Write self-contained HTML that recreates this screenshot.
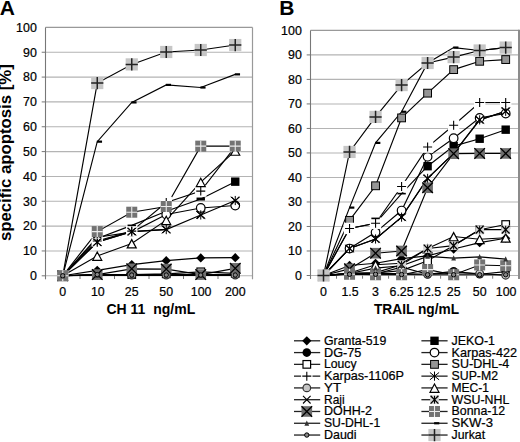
<!DOCTYPE html>
<html><head><meta charset="utf-8"><style>
html,body{margin:0;padding:0;background:#fff;width:520px;height:442px;overflow:hidden}
svg{display:block}
text{fill:#000} .r{stroke:#000;stroke-width:0.22px}
</style></head><body>
<svg width="520" height="442" viewBox="0 0 520 442" font-family='"Liberation Sans", sans-serif'><rect width="520" height="442" fill="#fff"/><text x="-0.3" y="14.6" font-size="21" font-weight="bold">A</text><text x="279.2" y="14.6" font-size="21" font-weight="bold">B</text><text transform="translate(10.7,241.1) rotate(-90)" font-size="16.5" font-weight="bold" textLength="176.9" lengthAdjust="spacingAndGlyphs">specific apoptosis [%]</text><text x="106.5" y="313.5" font-size="14" font-weight="bold" xml:space="preserve" style="white-space:pre">CH 11  ng/mL</text><text x="374" y="314" font-size="14" font-weight="bold" textLength="85" lengthAdjust="spacingAndGlyphs">TRAIL ng/mL</text><path d="M45.5 275.8H252.5M45.5 250.96H252.5M45.5 226.12H252.5M45.5 201.28H252.5M45.5 176.44H252.5M45.5 151.6H252.5M45.5 126.76H252.5M45.5 101.92H252.5M45.5 77.08H252.5M45.5 52.24H252.5" stroke="#b4b4b4" stroke-width="1.1" fill="none"/>
<path d="M45.5 27.4H252.5" stroke="#999" stroke-width="1.1" fill="none"/>
<path d="M45.5 27.4V279.3" stroke="#777" stroke-width="1.1" fill="none"/>
<path d="M252.5 27.4V279.3" stroke="#999" stroke-width="1.2" fill="none"/>
<path d="M41.7 275.8H45.5M41.7 250.96H45.5M41.7 226.12H45.5M41.7 201.28H45.5M41.7 176.44H45.5M41.7 151.6H45.5M41.7 126.76H45.5M41.7 101.92H45.5M41.7 77.08H45.5M41.7 52.24H45.5M80 275.8V279M114.5 275.8V279M149 275.8V279M183.5 275.8V279M218 275.8V279" stroke="#777" stroke-width="1" fill="none"/>
<text x="36.8" y="280.1" text-anchor="end" font-size="12.4" class="r">0</text>
<text x="36.8" y="255.26" text-anchor="end" font-size="12.4" class="r">10</text>
<text x="36.8" y="230.42" text-anchor="end" font-size="12.4" class="r">20</text>
<text x="36.8" y="205.58" text-anchor="end" font-size="12.4" class="r">30</text>
<text x="36.8" y="180.74" text-anchor="end" font-size="12.4" class="r">40</text>
<text x="36.8" y="155.9" text-anchor="end" font-size="12.4" class="r">50</text>
<text x="36.8" y="131.06" text-anchor="end" font-size="12.4" class="r">60</text>
<text x="36.8" y="106.22" text-anchor="end" font-size="12.4" class="r">70</text>
<text x="36.8" y="81.38" text-anchor="end" font-size="12.4" class="r">80</text>
<text x="36.8" y="56.54" text-anchor="end" font-size="12.4" class="r">90</text>
<text x="36.8" y="31.7" text-anchor="end" font-size="12.4" class="r">100</text>
<text x="62.75" y="295.9" text-anchor="middle" font-size="12.4" class="r">0</text>
<text x="97.85" y="295.9" text-anchor="middle" font-size="12.4" class="r">10</text>
<text x="131.75" y="295.9" text-anchor="middle" font-size="12.4" class="r">25</text>
<text x="166.25" y="295.9" text-anchor="middle" font-size="12.4" class="r">50</text>
<text x="201.15" y="295.9" text-anchor="middle" font-size="12.4" class="r">100</text>
<text x="235.25" y="295.9" text-anchor="middle" font-size="12.4" class="r">200</text>
<polyline points="62.75,275.8 97.25,270.34 131.75,264.62 166.25,260.65 200.75,257.92 235.25,257.67" fill="none" stroke="#000" stroke-width="1.15"/>
<polyline points="62.75,275.8 97.25,238.54 131.75,225.37 166.25,211.22 200.75,199.04 235.25,181.66" fill="none" stroke="#000" stroke-width="1.15"/>
<polyline points="62.75,275.8 97.25,275.05 131.75,274.56 166.25,274.56 200.75,274.56 235.25,274.56" fill="none" stroke="#000" stroke-width="1.15"/>
<polyline points="62.75,275.8 97.25,237.3 131.75,232.08 166.25,214.45 200.75,207.99 235.25,205.5" fill="none" stroke="#000" stroke-width="1.15"/>
<polyline points="62.75,275.8 97.25,275.05 131.75,274.56 166.25,273.81 200.75,271.83 235.25,273.32" fill="none" stroke="#000" stroke-width="1.15"/>
<polyline points="62.75,275.8 97.25,241.02 131.75,231.09 166.25,202.52 200.75,191.1 235.25,146.63" fill="none" stroke="#000" stroke-width="1.15"/>
<polyline points="62.75,275.8 97.25,242.27 131.75,231.58 166.25,229.6 200.75,214.94 235.25,200.53" fill="none" stroke="#000" stroke-width="1.15"/>
<polyline points="62.75,275.8 97.25,274.56 131.75,275.05 166.25,275.05 200.75,275.05 235.25,275.05" fill="none" stroke="#000" stroke-width="1.15"/>
<polyline points="62.75,275.8 97.25,255.93 131.75,243.51 166.25,220.16 200.75,182.15 235.25,150.85" fill="none" stroke="#000" stroke-width="1.15"/>
<polyline points="62.75,275.8 97.25,242.02 131.75,231.58 166.25,229.35" fill="none" stroke="#000" stroke-width="1.15"/>
<polyline points="62.75,275.8 97.25,274.56 131.75,268.84 166.25,269.09 200.75,274.56 235.25,268.35" fill="none" stroke="#000" stroke-width="1.15"/>
<polyline points="62.75,275.8 97.25,231.58 131.75,212.21 166.25,206.5 200.75,146.14 235.25,146.14" fill="none" stroke="#000" stroke-width="1.15"/>
<polyline points="62.75,275.8 97.25,275.3 131.75,275.3 166.25,275.3 200.75,275.3 235.25,275.3" fill="none" stroke="#000" stroke-width="1.15"/>
<polyline points="62.75,275.8 97.25,141.66 131.75,102.42 166.25,84.9 200.75,87.51 235.25,74.35" fill="none" stroke="#000" stroke-width="1.15"/>
<polyline points="62.75,275.8 97.25,274.56 131.75,275.05 166.25,275.05 200.75,275.05 235.25,275.05" fill="none" stroke="#000" stroke-width="1.15"/>
<polyline points="62.75,275.8 97.25,83.04 131.75,64.41 166.25,51.99 200.75,50 235.25,45.04" fill="none" stroke="#000" stroke-width="1.15"/>
<polygon points="62.75,271.2 67.35,275.8 62.75,280.4 58.15,275.8" fill="#000"/>
<polygon points="97.25,265.74 101.85,270.34 97.25,274.94 92.65,270.34" fill="#000"/>
<polygon points="131.75,260.02 136.35,264.62 131.75,269.22 127.15,264.62" fill="#000"/>
<polygon points="166.25,256.05 170.85,260.65 166.25,265.25 161.65,260.65" fill="#000"/>
<polygon points="200.75,253.32 205.35,257.92 200.75,262.52 196.15,257.92" fill="#000"/>
<polygon points="235.25,253.07 239.85,257.67 235.25,262.27 230.65,257.67" fill="#000"/>
<rect x="58.55" y="271.6" width="8.4" height="8.4" fill="#000"/>
<rect x="231.05" y="177.46" width="8.4" height="8.4" fill="#000"/>
<circle cx="62.75" cy="275.8" r="4.3" fill="#000"/>
<circle cx="97.25" cy="275.05" r="4.3" fill="#000"/>
<circle cx="131.75" cy="274.56" r="4.3" fill="#000"/>
<circle cx="166.25" cy="274.56" r="4.3" fill="#000"/>
<circle cx="200.75" cy="274.56" r="4.3" fill="#000"/>
<circle cx="235.25" cy="274.56" r="4.3" fill="#000"/>
<circle cx="62.75" cy="275.8" r="4.3" fill="#fff" stroke="#000" stroke-width="1.2"/>
<circle cx="97.25" cy="237.3" r="4.3" fill="#fff" stroke="#000" stroke-width="1.2"/>
<circle cx="131.75" cy="232.08" r="4.3" fill="#fff" stroke="#000" stroke-width="1.2"/>
<circle cx="166.25" cy="214.45" r="4.3" fill="#fff" stroke="#000" stroke-width="1.2"/>
<circle cx="200.75" cy="207.99" r="4.3" fill="#fff" stroke="#000" stroke-width="1.2"/>
<circle cx="235.25" cy="205.5" r="4.3" fill="#fff" stroke="#000" stroke-width="1.2"/>
<rect x="58.95" y="272" width="7.6" height="7.6" fill="#fff" stroke="#000" stroke-width="1.2"/>
<rect x="93.45" y="271.25" width="7.6" height="7.6" fill="#fff" stroke="#000" stroke-width="1.2"/>
<rect x="127.95" y="270.76" width="7.6" height="7.6" fill="#fff" stroke="#000" stroke-width="1.2"/>
<rect x="162.45" y="270.01" width="7.6" height="7.6" fill="#fff" stroke="#000" stroke-width="1.2"/>
<rect x="196.95" y="268.03" width="7.6" height="7.6" fill="#fff" stroke="#000" stroke-width="1.2"/>
<rect x="231.45" y="269.52" width="7.6" height="7.6" fill="#fff" stroke="#000" stroke-width="1.2"/>
<rect x="58.85" y="271.9" width="7.8" height="7.8" fill="#959595" stroke="#000" stroke-width="1"/>
<rect x="93.35" y="227.68" width="7.8" height="7.8" fill="#959595" stroke="#000" stroke-width="1"/>
<rect x="127.85" y="208.31" width="7.8" height="7.8" fill="#959595" stroke="#000" stroke-width="1"/>
<rect x="162.35" y="202.6" width="7.8" height="7.8" fill="#959595" stroke="#000" stroke-width="1"/>
<rect x="196.85" y="142.24" width="7.8" height="7.8" fill="#959595" stroke="#000" stroke-width="1"/>
<rect x="231.35" y="142.24" width="7.8" height="7.8" fill="#959595" stroke="#000" stroke-width="1"/>
<rect x="57.05" y="270.1" width="11.4" height="11.4" fill="#fff"/><path d="M58.25 275.8H67.25M62.75 271.3V280.3" stroke="#000" stroke-width="1.1" fill="none"/>
<rect x="91.55" y="235.32" width="11.4" height="11.4" fill="#fff"/><path d="M92.75 241.02H101.75M97.25 236.52V245.52" stroke="#000" stroke-width="1.1" fill="none"/>
<rect x="126.05" y="225.39" width="11.4" height="11.4" fill="#fff"/><path d="M127.25 231.09H136.25M131.75 226.59V235.59" stroke="#000" stroke-width="1.1" fill="none"/>
<rect x="160.55" y="196.82" width="11.4" height="11.4" fill="#fff"/><path d="M161.75 202.52H170.75M166.25 198.02V207.02" stroke="#000" stroke-width="1.1" fill="none"/>
<rect x="195.05" y="185.4" width="11.4" height="11.4" fill="#fff"/><path d="M196.25 191.1H205.25M200.75 186.6V195.6" stroke="#000" stroke-width="1.1" fill="none"/>
<rect x="229.55" y="140.93" width="11.4" height="11.4" fill="#fff"/><path d="M230.75 146.63H239.75M235.25 142.13V151.13" stroke="#000" stroke-width="1.1" fill="none"/>
<path d="M58.15 272.12L67.35 279.48M58.15 279.48L67.35 272.12M62.75 271.2V280.4" stroke="#000" stroke-width="1" fill="none"/><circle cx="62.75" cy="275.8" r="1" fill="#000"/>
<path d="M92.65 238.59L101.85 245.95M92.65 245.95L101.85 238.59M97.25 237.67V246.87" stroke="#000" stroke-width="1" fill="none"/><circle cx="97.25" cy="242.27" r="1" fill="#000"/>
<path d="M127.15 227.9L136.35 235.26M127.15 235.26L136.35 227.9M131.75 226.98V236.18" stroke="#000" stroke-width="1" fill="none"/><circle cx="131.75" cy="231.58" r="1" fill="#000"/>
<path d="M161.65 225.92L170.85 233.28M161.65 233.28L170.85 225.92M166.25 225V234.2" stroke="#000" stroke-width="1" fill="none"/><circle cx="166.25" cy="229.6" r="1" fill="#000"/>
<path d="M196.15 211.26L205.35 218.62M196.15 218.62L205.35 211.26M200.75 210.34V219.54" stroke="#000" stroke-width="1" fill="none"/><circle cx="200.75" cy="214.94" r="1" fill="#000"/>
<path d="M230.65 196.85L239.85 204.21M230.65 204.21L239.85 196.85M235.25 195.93V205.13" stroke="#000" stroke-width="1" fill="none"/><circle cx="235.25" cy="200.53" r="1" fill="#000"/>
<circle cx="62.75" cy="275.8" r="3.8" fill="#c4c4c4" stroke="#333" stroke-width="1.2"/>
<circle cx="97.25" cy="274.56" r="3.8" fill="#c4c4c4" stroke="#333" stroke-width="1.2"/>
<circle cx="131.75" cy="275.05" r="3.8" fill="#c4c4c4" stroke="#333" stroke-width="1.2"/>
<circle cx="166.25" cy="275.05" r="3.8" fill="#c4c4c4" stroke="#333" stroke-width="1.2"/>
<circle cx="200.75" cy="275.05" r="3.8" fill="#c4c4c4" stroke="#333" stroke-width="1.2"/>
<circle cx="235.25" cy="275.05" r="3.8" fill="#c4c4c4" stroke="#333" stroke-width="1.2"/>
<polygon points="62.75,271.9 67.25,280.2 58.25,280.2" fill="#fff" stroke="#000" stroke-width="1.2"/>
<polygon points="97.25,252.03 101.75,260.33 92.75,260.33" fill="#fff" stroke="#000" stroke-width="1.2"/>
<polygon points="131.75,239.61 136.25,247.91 127.25,247.91" fill="#fff" stroke="#000" stroke-width="1.2"/>
<polygon points="166.25,216.26 170.75,224.56 161.75,224.56" fill="#fff" stroke="#000" stroke-width="1.2"/>
<polygon points="200.75,178.25 205.25,186.55 196.25,186.55" fill="#fff" stroke="#000" stroke-width="1.2"/>
<polygon points="235.25,146.95 239.75,155.25 230.75,155.25" fill="#fff" stroke="#000" stroke-width="1.2"/>
<path d="M58.95 272L66.55 279.6M58.95 279.6L66.55 272" stroke="#000" stroke-width="1.1" fill="none"/>
<path d="M93.45 238.22L101.05 245.82M93.45 245.82L101.05 238.22" stroke="#000" stroke-width="1.1" fill="none"/>
<path d="M127.95 227.78L135.55 235.38M127.95 235.38L135.55 227.78" stroke="#000" stroke-width="1.1" fill="none"/>
<path d="M162.45 225.55L170.05 233.15M162.45 233.15L170.05 225.55" stroke="#000" stroke-width="1.1" fill="none"/>
<path d="M196.95 211.14L204.55 218.74M196.95 218.74L204.55 211.14" stroke="#000" stroke-width="1.1" fill="none"/>
<path d="M231.45 196.98L239.05 204.58M231.45 204.58L239.05 196.98" stroke="#000" stroke-width="1.1" fill="none"/>
<rect x="58.35" y="271.4" width="8.8" height="8.8" fill="#d4d4d4"/><path d="M58.85 271.9L66.65 279.7M58.85 279.7L66.65 271.9" stroke="#000" stroke-width="1.3" fill="none"/><path d="M62.75 271.9V279.7" stroke="#000" stroke-width="1" fill="none"/>
<rect x="92.85" y="229.92" width="8.8" height="8.8" fill="#d4d4d4"/><path d="M93.35 230.42L101.15 238.22M93.35 238.22L101.15 230.42" stroke="#000" stroke-width="1.3" fill="none"/><path d="M97.25 230.42V238.22" stroke="#000" stroke-width="1" fill="none"/>
<rect x="127.35" y="207.81" width="8.8" height="8.8" fill="#d4d4d4"/><path d="M127.85 208.31L135.65 216.11M127.85 216.11L135.65 208.31" stroke="#000" stroke-width="1.3" fill="none"/><path d="M131.75 208.31V216.11" stroke="#000" stroke-width="1" fill="none"/>
<rect x="161.85" y="202.1" width="8.8" height="8.8" fill="#d4d4d4"/><path d="M162.35 202.6L170.15 210.4M162.35 210.4L170.15 202.6" stroke="#000" stroke-width="1.3" fill="none"/><path d="M166.25 202.6V210.4" stroke="#000" stroke-width="1" fill="none"/>
<rect x="196.35" y="141.74" width="8.8" height="8.8" fill="#d4d4d4"/><path d="M196.85 142.24L204.65 150.04M196.85 150.04L204.65 142.24" stroke="#000" stroke-width="1.3" fill="none"/><path d="M200.75 142.24V150.04" stroke="#000" stroke-width="1" fill="none"/>
<rect x="230.85" y="141.74" width="8.8" height="8.8" fill="#d4d4d4"/><path d="M231.35 142.24L239.15 150.04M231.35 150.04L239.15 142.24" stroke="#000" stroke-width="1.3" fill="none"/><path d="M235.25 142.24V150.04" stroke="#000" stroke-width="1" fill="none"/>
<rect x="57.45" y="270.5" width="10.6" height="10.6" fill="#6e6e6e"/><path d="M57.45 270.5L68.05 281.1M57.45 281.1L68.05 270.5" stroke="#000" stroke-width="1.3" fill="none"/>
<rect x="91.95" y="269.26" width="10.6" height="10.6" fill="#6e6e6e"/><path d="M91.95 269.26L102.55 279.86M91.95 279.86L102.55 269.26" stroke="#000" stroke-width="1.3" fill="none"/>
<rect x="126.45" y="263.54" width="10.6" height="10.6" fill="#6e6e6e"/><path d="M126.45 263.54L137.05 274.14M126.45 274.14L137.05 263.54" stroke="#000" stroke-width="1.3" fill="none"/>
<rect x="160.95" y="263.79" width="10.6" height="10.6" fill="#6e6e6e"/><path d="M160.95 263.79L171.55 274.39M160.95 274.39L171.55 263.79" stroke="#000" stroke-width="1.3" fill="none"/>
<rect x="195.45" y="269.26" width="10.6" height="10.6" fill="#6e6e6e"/><path d="M195.45 269.26L206.05 279.86M195.45 279.86L206.05 269.26" stroke="#000" stroke-width="1.3" fill="none"/>
<rect x="229.95" y="263.05" width="10.6" height="10.6" fill="#6e6e6e"/><path d="M229.95 263.05L240.55 273.65M229.95 273.65L240.55 263.05" stroke="#000" stroke-width="1.3" fill="none"/>
<rect x="57.25" y="270.3" width="11" height="11" fill="#737373"/><path d="M57.25 275.8H68.25M62.75 270.3V281.3" stroke="#ececec" stroke-width="1.1" fill="none"/>
<rect x="91.75" y="226.08" width="11" height="11" fill="#737373"/><path d="M91.75 231.58H102.75M97.25 226.08V237.08" stroke="#ececec" stroke-width="1.1" fill="none"/>
<rect x="126.25" y="206.71" width="11" height="11" fill="#737373"/><path d="M126.25 212.21H137.25M131.75 206.71V217.71" stroke="#ececec" stroke-width="1.1" fill="none"/>
<rect x="160.75" y="201" width="11" height="11" fill="#737373"/><path d="M160.75 206.5H171.75M166.25 201V212" stroke="#ececec" stroke-width="1.1" fill="none"/>
<rect x="195.25" y="140.64" width="11" height="11" fill="#737373"/><path d="M195.25 146.14H206.25M200.75 140.64V151.64" stroke="#ececec" stroke-width="1.1" fill="none"/>
<rect x="229.75" y="140.64" width="11" height="11" fill="#737373"/><path d="M229.75 146.14H240.75M235.25 140.64V151.64" stroke="#ececec" stroke-width="1.1" fill="none"/>
<polygon points="62.75,273 65.15,278.2 60.35,278.2" fill="#333"/>
<polygon points="97.25,272.5 99.65,277.7 94.85,277.7" fill="#333"/>
<polygon points="131.75,272.5 134.15,277.7 129.35,277.7" fill="#333"/>
<polygon points="166.25,272.5 168.65,277.7 163.85,277.7" fill="#333"/>
<polygon points="200.75,272.5 203.15,277.7 198.35,277.7" fill="#333"/>
<polygon points="235.25,272.5 237.65,277.7 232.85,277.7" fill="#333"/>
<rect x="96.85" y="140.56" width="5.2" height="2.2" fill="#000"/>
<rect x="131.35" y="101.32" width="5.2" height="2.2" fill="#000"/>
<rect x="165.85" y="83.8" width="5.2" height="2.2" fill="#000"/>
<rect x="200.35" y="86.41" width="5.2" height="2.2" fill="#000"/>
<rect x="234.85" y="73.25" width="5.2" height="2.2" fill="#000"/>
<circle cx="62.75" cy="275.8" r="2.2" fill="#888" stroke="#000" stroke-width="1"/>
<circle cx="97.25" cy="274.56" r="2.2" fill="#888" stroke="#000" stroke-width="1"/>
<circle cx="131.75" cy="275.05" r="2.2" fill="#888" stroke="#000" stroke-width="1"/>
<circle cx="166.25" cy="275.05" r="2.2" fill="#888" stroke="#000" stroke-width="1"/>
<circle cx="200.75" cy="275.05" r="2.2" fill="#888" stroke="#000" stroke-width="1"/>
<circle cx="235.25" cy="275.05" r="2.2" fill="#888" stroke="#000" stroke-width="1"/>
<rect x="91.15" y="76.94" width="12.2" height="12.2" fill="#c6c6c6"/><path d="M91.15 83.04H103.35M97.25 76.94V89.14" stroke="#222" stroke-width="1.5" fill="none"/>
<rect x="125.65" y="58.31" width="12.2" height="12.2" fill="#c6c6c6"/><path d="M125.65 64.41H137.85M131.75 58.31V70.51" stroke="#222" stroke-width="1.5" fill="none"/>
<rect x="160.15" y="45.89" width="12.2" height="12.2" fill="#c6c6c6"/><path d="M160.15 51.99H172.35M166.25 45.89V58.09" stroke="#222" stroke-width="1.5" fill="none"/>
<rect x="194.65" y="43.9" width="12.2" height="12.2" fill="#c6c6c6"/><path d="M194.65 50H206.85M200.75 43.9V56.1" stroke="#222" stroke-width="1.5" fill="none"/>
<rect x="229.15" y="38.94" width="12.2" height="12.2" fill="#c6c6c6"/><path d="M229.15 45.04H241.35M235.25 38.94V51.14" stroke="#222" stroke-width="1.5" fill="none"/>
<rect x="127.55" y="224.57" width="8.4" height="1.6" fill="#000"/>
<rect x="196.55" y="197.54" width="8.4" height="3" fill="#000"/><path d="M310.5 275.5H518.7M310.5 250.99H518.7M310.5 226.48H518.7M310.5 201.97H518.7M310.5 177.46H518.7M310.5 152.95H518.7M310.5 128.44H518.7M310.5 103.93H518.7M310.5 79.42H518.7M310.5 54.91H518.7" stroke="#b4b4b4" stroke-width="1.1" fill="none"/>
<path d="M310.5 30.4H518.7" stroke="#999" stroke-width="1.1" fill="none"/>
<path d="M310.5 30.4V279" stroke="#777" stroke-width="1.1" fill="none"/>
<rect x="518" y="29.7" width="2" height="249.3" fill="#8c8c8c"/>
<path d="M306.7 275.5H310.5M306.7 250.99H310.5M306.7 226.48H310.5M306.7 201.97H310.5M306.7 177.46H310.5M306.7 152.95H310.5M306.7 128.44H310.5M306.7 103.93H310.5M306.7 79.42H310.5M306.7 54.91H310.5M336.52 275.5V278.7M362.55 275.5V278.7M388.58 275.5V278.7M414.6 275.5V278.7M440.62 275.5V278.7M466.65 275.5V278.7M492.68 275.5V278.7" stroke="#777" stroke-width="1" fill="none"/>
<text x="301.8" y="279.8" text-anchor="end" font-size="12.4" class="r">0</text>
<text x="301.8" y="255.29" text-anchor="end" font-size="12.4" class="r">10</text>
<text x="301.8" y="230.78" text-anchor="end" font-size="12.4" class="r">20</text>
<text x="301.8" y="206.27" text-anchor="end" font-size="12.4" class="r">30</text>
<text x="301.8" y="181.76" text-anchor="end" font-size="12.4" class="r">40</text>
<text x="301.8" y="157.25" text-anchor="end" font-size="12.4" class="r">50</text>
<text x="301.8" y="132.74" text-anchor="end" font-size="12.4" class="r">60</text>
<text x="301.8" y="108.23" text-anchor="end" font-size="12.4" class="r">70</text>
<text x="301.8" y="83.72" text-anchor="end" font-size="12.4" class="r">80</text>
<text x="301.8" y="59.21" text-anchor="end" font-size="12.4" class="r">90</text>
<text x="301.8" y="34.7" text-anchor="end" font-size="12.4" class="r">100</text>
<text x="323.51" y="295.9" text-anchor="middle" font-size="12.4" class="r">0</text>
<text x="350.04" y="295.9" text-anchor="middle" font-size="12.4" class="r">1.5</text>
<text x="375.56" y="295.9" text-anchor="middle" font-size="12.4" class="r">3</text>
<text x="401.59" y="295.9" text-anchor="middle" font-size="12.4" class="r">6.25</text>
<text x="429.11" y="295.9" text-anchor="middle" font-size="12.4" class="r">12.5</text>
<text x="453.64" y="295.9" text-anchor="middle" font-size="12.4" class="r">25</text>
<text x="479.66" y="295.9" text-anchor="middle" font-size="12.4" class="r">50</text>
<text x="506.09" y="295.9" text-anchor="middle" font-size="12.4" class="r">100</text>
<polyline points="323.51,275.5 349.54,265.45 375.56,263.25 401.59,258.59 427.61,255.89 453.64,249.03 479.66,242.66 505.69,238.24" fill="none" stroke="#000" stroke-width="1.15"/>
<polyline points="323.51,275.5 349.54,228.44 375.56,223.29 401.59,193.64 427.61,166.19 453.64,146.09 479.66,138.73 505.69,129.67" fill="none" stroke="#000" stroke-width="1.15"/>
<polyline points="323.51,275.5 349.54,273.54 375.56,273.54 401.59,273.54 427.61,274.27 453.64,271.33 479.66,274.27 505.69,271.58" fill="none" stroke="#000" stroke-width="1.15"/>
<polyline points="323.51,275.5 349.54,248.54 375.56,232.36 401.59,210.55 427.61,156.87 453.64,138.24 479.66,117.9 505.69,113.49" fill="none" stroke="#000" stroke-width="1.15"/>
<polyline points="323.51,275.5 349.54,273.54 375.56,273.05 401.59,270.6 427.61,260.79 453.64,245.6 479.66,229.67 505.69,224.52" fill="none" stroke="#000" stroke-width="1.15"/>
<polyline points="323.51,275.5 349.54,220.35 375.56,185.79 401.59,117.9 427.61,93.15 453.64,69.62 479.66,61.28 505.69,59.57" fill="none" stroke="#000" stroke-width="1.15"/>
<polyline points="323.51,275.5 349.54,228.44 375.56,223.29 401.59,186.53 427.61,147.07 453.64,125.25 479.66,102.46 505.69,102.46" fill="none" stroke="#000" stroke-width="1.15"/>
<polyline points="323.51,275.5 349.54,248.54 375.56,238.98 401.59,217.17 427.61,178.44 453.64,153.44 479.66,119.86 505.69,111.28" fill="none" stroke="#000" stroke-width="1.15"/>
<polyline points="323.51,275.5 349.54,274.03 375.56,274.03 401.59,267.17 427.61,274.27 453.64,272.56 479.66,273.54 505.69,275.25" fill="none" stroke="#000" stroke-width="1.15"/>
<polyline points="323.51,275.5 349.54,273.05 375.56,264.72 401.59,263.25 427.61,248.54 453.64,236.53 479.66,239.23 505.69,237.75" fill="none" stroke="#000" stroke-width="1.15"/>
<polyline points="323.51,275.5 349.54,248.54 375.56,238.98 401.59,217.17 427.61,178.44 453.64,153.44 479.66,119.86 505.69,111.28" fill="none" stroke="#000" stroke-width="1.15"/>
<polyline points="323.51,275.5 349.54,273.29 375.56,272.56 401.59,264.72 427.61,248.54 453.64,245.6 479.66,229.67 505.69,229.67" fill="none" stroke="#000" stroke-width="1.15"/>
<polyline points="323.51,275.5 349.54,268.88 375.56,253.2 401.59,250.99 427.61,187.75 453.64,153.69 479.66,153.44 505.69,153.44" fill="none" stroke="#000" stroke-width="1.15"/>
<polyline points="323.51,275.5 349.54,274.27 375.56,274.76 401.59,274.76 427.61,269.62 453.64,274.76 479.66,264.96 505.69,265.7" fill="none" stroke="#000" stroke-width="1.15"/>
<polyline points="323.51,275.5 349.54,273.54 375.56,268.15 401.59,265.7 427.61,256.38 453.64,258.1 479.66,256.87 505.69,259.08" fill="none" stroke="#000" stroke-width="1.15"/>
<polyline points="323.51,275.5 349.54,207.61 375.56,142.9 401.59,111.77 427.61,63 453.64,47.56 479.66,50.5 505.69,47.56" fill="none" stroke="#000" stroke-width="1.15"/>
<polyline points="323.51,275.5 349.54,274.27 375.56,274.27 401.59,274.52 427.61,274.76 453.64,274.76 479.66,274.76 505.69,274.76" fill="none" stroke="#000" stroke-width="1.15"/>
<polyline points="323.51,275.5 349.54,151.97 375.56,116.92 401.59,85.06 427.61,63 453.64,57.12 479.66,50.5 505.69,47.56" fill="none" stroke="#000" stroke-width="1.15"/>
<polygon points="323.51,270.9 328.11,275.5 323.51,280.1 318.91,275.5" fill="#000"/>
<polygon points="349.54,260.85 354.14,265.45 349.54,270.05 344.94,265.45" fill="#000"/>
<polygon points="375.56,258.64 380.16,263.25 375.56,267.85 370.96,263.25" fill="#000"/>
<polygon points="401.59,253.99 406.19,258.59 401.59,263.19 396.99,258.59" fill="#000"/>
<polygon points="427.61,251.29 432.21,255.89 427.61,260.49 423.01,255.89" fill="#000"/>
<polygon points="453.64,244.43 458.24,249.03 453.64,253.63 449.04,249.03" fill="#000"/>
<polygon points="479.66,238.06 484.26,242.66 479.66,247.26 475.06,242.66" fill="#000"/>
<polygon points="505.69,233.64 510.29,238.24 505.69,242.84 501.09,238.24" fill="#000"/>
<rect x="319.31" y="271.3" width="8.4" height="8.4" fill="#000"/>
<rect x="423.41" y="161.99" width="8.4" height="8.4" fill="#000"/>
<rect x="449.44" y="141.89" width="8.4" height="8.4" fill="#000"/>
<rect x="475.46" y="134.53" width="8.4" height="8.4" fill="#000"/>
<rect x="501.49" y="125.47" width="8.4" height="8.4" fill="#000"/>
<circle cx="323.51" cy="275.5" r="4.3" fill="#000"/>
<circle cx="349.54" cy="273.54" r="4.3" fill="#000"/>
<circle cx="375.56" cy="273.54" r="4.3" fill="#000"/>
<circle cx="401.59" cy="273.54" r="4.3" fill="#000"/>
<circle cx="427.61" cy="274.27" r="4.3" fill="#000"/>
<circle cx="453.64" cy="271.33" r="4.3" fill="#000"/>
<circle cx="479.66" cy="274.27" r="4.3" fill="#000"/>
<circle cx="505.69" cy="271.58" r="4.3" fill="#000"/>
<circle cx="323.51" cy="275.5" r="4.3" fill="#fff" stroke="#000" stroke-width="1.2"/>
<circle cx="349.54" cy="248.54" r="4.3" fill="#fff" stroke="#000" stroke-width="1.2"/>
<circle cx="375.56" cy="232.36" r="4.3" fill="#fff" stroke="#000" stroke-width="1.2"/>
<circle cx="401.59" cy="210.55" r="4.3" fill="#fff" stroke="#000" stroke-width="1.2"/>
<circle cx="427.61" cy="156.87" r="4.3" fill="#fff" stroke="#000" stroke-width="1.2"/>
<circle cx="453.64" cy="138.24" r="4.3" fill="#fff" stroke="#000" stroke-width="1.2"/>
<circle cx="479.66" cy="117.9" r="4.3" fill="#fff" stroke="#000" stroke-width="1.2"/>
<circle cx="505.69" cy="113.49" r="4.3" fill="#fff" stroke="#000" stroke-width="1.2"/>
<rect x="319.71" y="271.7" width="7.6" height="7.6" fill="#fff" stroke="#000" stroke-width="1.2"/>
<rect x="345.74" y="269.74" width="7.6" height="7.6" fill="#fff" stroke="#000" stroke-width="1.2"/>
<rect x="371.76" y="269.25" width="7.6" height="7.6" fill="#fff" stroke="#000" stroke-width="1.2"/>
<rect x="397.79" y="266.8" width="7.6" height="7.6" fill="#fff" stroke="#000" stroke-width="1.2"/>
<rect x="423.81" y="256.99" width="7.6" height="7.6" fill="#fff" stroke="#000" stroke-width="1.2"/>
<rect x="449.84" y="241.8" width="7.6" height="7.6" fill="#fff" stroke="#000" stroke-width="1.2"/>
<rect x="475.86" y="225.87" width="7.6" height="7.6" fill="#fff" stroke="#000" stroke-width="1.2"/>
<rect x="501.89" y="220.72" width="7.6" height="7.6" fill="#fff" stroke="#000" stroke-width="1.2"/>
<rect x="319.61" y="271.6" width="7.8" height="7.8" fill="#959595" stroke="#000" stroke-width="1"/>
<rect x="345.64" y="216.45" width="7.8" height="7.8" fill="#959595" stroke="#000" stroke-width="1"/>
<rect x="371.66" y="181.89" width="7.8" height="7.8" fill="#959595" stroke="#000" stroke-width="1"/>
<rect x="397.69" y="114" width="7.8" height="7.8" fill="#959595" stroke="#000" stroke-width="1"/>
<rect x="423.71" y="89.25" width="7.8" height="7.8" fill="#959595" stroke="#000" stroke-width="1"/>
<rect x="449.74" y="65.72" width="7.8" height="7.8" fill="#959595" stroke="#000" stroke-width="1"/>
<rect x="475.76" y="57.38" width="7.8" height="7.8" fill="#959595" stroke="#000" stroke-width="1"/>
<rect x="501.79" y="55.67" width="7.8" height="7.8" fill="#959595" stroke="#000" stroke-width="1"/>
<rect x="317.81" y="269.8" width="11.4" height="11.4" fill="#fff"/><path d="M319.01 275.5H328.01M323.51 271V280" stroke="#000" stroke-width="1.1" fill="none"/>
<rect x="343.84" y="222.74" width="11.4" height="11.4" fill="#fff"/><path d="M345.04 228.44H354.04M349.54 223.94V232.94" stroke="#000" stroke-width="1.1" fill="none"/>
<rect x="369.86" y="217.59" width="11.4" height="11.4" fill="#fff"/><path d="M371.06 223.29H380.06M375.56 218.79V227.79" stroke="#000" stroke-width="1.1" fill="none"/>
<rect x="395.89" y="180.83" width="11.4" height="11.4" fill="#fff"/><path d="M397.09 186.53H406.09M401.59 182.03V191.03" stroke="#000" stroke-width="1.1" fill="none"/>
<rect x="421.91" y="141.37" width="11.4" height="11.4" fill="#fff"/><path d="M423.11 147.07H432.11M427.61 142.57V151.57" stroke="#000" stroke-width="1.1" fill="none"/>
<rect x="447.94" y="119.55" width="11.4" height="11.4" fill="#fff"/><path d="M449.14 125.25H458.14M453.64 120.75V129.75" stroke="#000" stroke-width="1.1" fill="none"/>
<rect x="473.96" y="96.76" width="11.4" height="11.4" fill="#fff"/><path d="M475.16 102.46H484.16M479.66 97.96V106.96" stroke="#000" stroke-width="1.1" fill="none"/>
<rect x="499.99" y="96.76" width="11.4" height="11.4" fill="#fff"/><path d="M501.19 102.46H510.19M505.69 97.96V106.96" stroke="#000" stroke-width="1.1" fill="none"/>
<path d="M318.91 271.82L328.11 279.18M318.91 279.18L328.11 271.82M323.51 270.9V280.1" stroke="#000" stroke-width="1" fill="none"/><circle cx="323.51" cy="275.5" r="1" fill="#000"/>
<path d="M344.94 244.86L354.14 252.22M344.94 252.22L354.14 244.86M349.54 243.94V253.14" stroke="#000" stroke-width="1" fill="none"/><circle cx="349.54" cy="248.54" r="1" fill="#000"/>
<path d="M370.96 235.3L380.16 242.66M370.96 242.66L380.16 235.3M375.56 234.38V243.58" stroke="#000" stroke-width="1" fill="none"/><circle cx="375.56" cy="238.98" r="1" fill="#000"/>
<path d="M396.99 213.49L406.19 220.85M396.99 220.85L406.19 213.49M401.59 212.57V221.77" stroke="#000" stroke-width="1" fill="none"/><circle cx="401.59" cy="217.17" r="1" fill="#000"/>
<path d="M423.01 174.76L432.21 182.12M423.01 182.12L432.21 174.76M427.61 173.84V183.04" stroke="#000" stroke-width="1" fill="none"/><circle cx="427.61" cy="178.44" r="1" fill="#000"/>
<path d="M449.04 149.76L458.24 157.12M449.04 157.12L458.24 149.76M453.64 148.84V158.04" stroke="#000" stroke-width="1" fill="none"/><circle cx="453.64" cy="153.44" r="1" fill="#000"/>
<path d="M475.06 116.18L484.26 123.54M475.06 123.54L484.26 116.18M479.66 115.26V124.46" stroke="#000" stroke-width="1" fill="none"/><circle cx="479.66" cy="119.86" r="1" fill="#000"/>
<path d="M501.09 107.6L510.29 114.96M501.09 114.96L510.29 107.6M505.69 106.68V115.88" stroke="#000" stroke-width="1" fill="none"/><circle cx="505.69" cy="111.28" r="1" fill="#000"/>
<circle cx="323.51" cy="275.5" r="3.8" fill="#c4c4c4" stroke="#333" stroke-width="1.2"/>
<circle cx="349.54" cy="274.03" r="3.8" fill="#c4c4c4" stroke="#333" stroke-width="1.2"/>
<circle cx="375.56" cy="274.03" r="3.8" fill="#c4c4c4" stroke="#333" stroke-width="1.2"/>
<circle cx="401.59" cy="267.17" r="3.8" fill="#c4c4c4" stroke="#333" stroke-width="1.2"/>
<circle cx="427.61" cy="274.27" r="3.8" fill="#c4c4c4" stroke="#333" stroke-width="1.2"/>
<circle cx="453.64" cy="272.56" r="3.8" fill="#c4c4c4" stroke="#333" stroke-width="1.2"/>
<circle cx="479.66" cy="273.54" r="3.8" fill="#c4c4c4" stroke="#333" stroke-width="1.2"/>
<circle cx="505.69" cy="275.25" r="3.8" fill="#c4c4c4" stroke="#333" stroke-width="1.2"/>
<polygon points="323.51,271.6 328.01,279.9 319.01,279.9" fill="#fff" stroke="#000" stroke-width="1.2"/>
<polygon points="349.54,269.15 354.04,277.45 345.04,277.45" fill="#fff" stroke="#000" stroke-width="1.2"/>
<polygon points="375.56,260.82 380.06,269.12 371.06,269.12" fill="#fff" stroke="#000" stroke-width="1.2"/>
<polygon points="401.59,259.35 406.09,267.64 397.09,267.64" fill="#fff" stroke="#000" stroke-width="1.2"/>
<polygon points="427.61,244.64 432.11,252.94 423.11,252.94" fill="#fff" stroke="#000" stroke-width="1.2"/>
<polygon points="453.64,232.63 458.14,240.93 449.14,240.93" fill="#fff" stroke="#000" stroke-width="1.2"/>
<polygon points="479.66,235.33 484.16,243.63 475.16,243.63" fill="#fff" stroke="#000" stroke-width="1.2"/>
<polygon points="505.69,233.85 510.19,242.15 501.19,242.15" fill="#fff" stroke="#000" stroke-width="1.2"/>
<path d="M319.71 271.7L327.31 279.3M319.71 279.3L327.31 271.7" stroke="#000" stroke-width="1.1" fill="none"/>
<path d="M345.74 244.74L353.34 252.34M345.74 252.34L353.34 244.74" stroke="#000" stroke-width="1.1" fill="none"/>
<path d="M371.76 235.18L379.36 242.78M371.76 242.78L379.36 235.18" stroke="#000" stroke-width="1.1" fill="none"/>
<path d="M397.79 213.37L405.39 220.97M397.79 220.97L405.39 213.37" stroke="#000" stroke-width="1.1" fill="none"/>
<path d="M423.81 174.64L431.41 182.24M423.81 182.24L431.41 174.64" stroke="#000" stroke-width="1.1" fill="none"/>
<path d="M449.84 149.64L457.44 157.24M449.84 157.24L457.44 149.64" stroke="#000" stroke-width="1.1" fill="none"/>
<path d="M475.86 116.06L483.46 123.66M475.86 123.66L483.46 116.06" stroke="#000" stroke-width="1.1" fill="none"/>
<path d="M501.89 107.48L509.49 115.08M501.89 115.08L509.49 107.48" stroke="#000" stroke-width="1.1" fill="none"/>
<rect x="319.11" y="271.1" width="8.8" height="8.8" fill="#d4d4d4"/><path d="M319.61 271.6L327.41 279.4M319.61 279.4L327.41 271.6" stroke="#000" stroke-width="1.3" fill="none"/><path d="M323.51 271.6V279.4" stroke="#000" stroke-width="1" fill="none"/>
<rect x="345.14" y="268.89" width="8.8" height="8.8" fill="#d4d4d4"/><path d="M345.64 269.39L353.44 277.19M345.64 277.19L353.44 269.39" stroke="#000" stroke-width="1.3" fill="none"/><path d="M349.54 269.39V277.19" stroke="#000" stroke-width="1" fill="none"/>
<rect x="371.16" y="268.16" width="8.8" height="8.8" fill="#d4d4d4"/><path d="M371.66 268.66L379.46 276.46M371.66 276.46L379.46 268.66" stroke="#000" stroke-width="1.3" fill="none"/><path d="M375.56 268.66V276.46" stroke="#000" stroke-width="1" fill="none"/>
<rect x="397.19" y="260.32" width="8.8" height="8.8" fill="#d4d4d4"/><path d="M397.69 260.82L405.49 268.62M397.69 268.62L405.49 260.82" stroke="#000" stroke-width="1.3" fill="none"/><path d="M401.59 260.82V268.62" stroke="#000" stroke-width="1" fill="none"/>
<rect x="423.21" y="244.14" width="8.8" height="8.8" fill="#d4d4d4"/><path d="M423.71 244.64L431.51 252.44M423.71 252.44L431.51 244.64" stroke="#000" stroke-width="1.3" fill="none"/><path d="M427.61 244.64V252.44" stroke="#000" stroke-width="1" fill="none"/>
<rect x="449.24" y="241.2" width="8.8" height="8.8" fill="#d4d4d4"/><path d="M449.74 241.7L457.54 249.5M449.74 249.5L457.54 241.7" stroke="#000" stroke-width="1.3" fill="none"/><path d="M453.64 241.7V249.5" stroke="#000" stroke-width="1" fill="none"/>
<rect x="475.26" y="225.27" width="8.8" height="8.8" fill="#d4d4d4"/><path d="M475.76 225.77L483.56 233.57M475.76 233.57L483.56 225.77" stroke="#000" stroke-width="1.3" fill="none"/><path d="M479.66 225.77V233.57" stroke="#000" stroke-width="1" fill="none"/>
<rect x="501.29" y="225.27" width="8.8" height="8.8" fill="#d4d4d4"/><path d="M501.79 225.77L509.59 233.57M501.79 233.57L509.59 225.77" stroke="#000" stroke-width="1.3" fill="none"/><path d="M505.69 225.77V233.57" stroke="#000" stroke-width="1" fill="none"/>
<rect x="318.21" y="270.2" width="10.6" height="10.6" fill="#6e6e6e"/><path d="M318.21 270.2L328.81 280.8M318.21 280.8L328.81 270.2" stroke="#000" stroke-width="1.3" fill="none"/>
<rect x="344.24" y="263.58" width="10.6" height="10.6" fill="#6e6e6e"/><path d="M344.24 263.58L354.84 274.18M344.24 274.18L354.84 263.58" stroke="#000" stroke-width="1.3" fill="none"/>
<rect x="370.26" y="247.9" width="10.6" height="10.6" fill="#6e6e6e"/><path d="M370.26 247.9L380.86 258.5M370.26 258.5L380.86 247.9" stroke="#000" stroke-width="1.3" fill="none"/>
<rect x="396.29" y="245.69" width="10.6" height="10.6" fill="#6e6e6e"/><path d="M396.29 245.69L406.89 256.29M396.29 256.29L406.89 245.69" stroke="#000" stroke-width="1.3" fill="none"/>
<rect x="422.31" y="182.45" width="10.6" height="10.6" fill="#6e6e6e"/><path d="M422.31 182.45L432.91 193.05M422.31 193.05L432.91 182.45" stroke="#000" stroke-width="1.3" fill="none"/>
<rect x="448.34" y="148.39" width="10.6" height="10.6" fill="#6e6e6e"/><path d="M448.34 148.39L458.94 158.99M448.34 158.99L458.94 148.39" stroke="#000" stroke-width="1.3" fill="none"/>
<rect x="474.36" y="148.14" width="10.6" height="10.6" fill="#6e6e6e"/><path d="M474.36 148.14L484.96 158.74M474.36 158.74L484.96 148.14" stroke="#000" stroke-width="1.3" fill="none"/>
<rect x="500.39" y="148.14" width="10.6" height="10.6" fill="#6e6e6e"/><path d="M500.39 148.14L510.99 158.74M500.39 158.74L510.99 148.14" stroke="#000" stroke-width="1.3" fill="none"/>
<rect x="318.01" y="270" width="11" height="11" fill="#737373"/><path d="M318.01 275.5H329.01M323.51 270V281" stroke="#ececec" stroke-width="1.1" fill="none"/>
<rect x="344.04" y="268.77" width="11" height="11" fill="#737373"/><path d="M344.04 274.27H355.04M349.54 268.77V279.77" stroke="#ececec" stroke-width="1.1" fill="none"/>
<rect x="370.06" y="269.26" width="11" height="11" fill="#737373"/><path d="M370.06 274.76H381.06M375.56 269.26V280.26" stroke="#ececec" stroke-width="1.1" fill="none"/>
<rect x="396.09" y="269.26" width="11" height="11" fill="#737373"/><path d="M396.09 274.76H407.09M401.59 269.26V280.26" stroke="#ececec" stroke-width="1.1" fill="none"/>
<rect x="422.11" y="264.12" width="11" height="11" fill="#737373"/><path d="M422.11 269.62H433.11M427.61 264.12V275.12" stroke="#ececec" stroke-width="1.1" fill="none"/>
<rect x="448.14" y="269.26" width="11" height="11" fill="#737373"/><path d="M448.14 274.76H459.14M453.64 269.26V280.26" stroke="#ececec" stroke-width="1.1" fill="none"/>
<rect x="474.16" y="259.46" width="11" height="11" fill="#737373"/><path d="M474.16 264.96H485.16M479.66 259.46V270.46" stroke="#ececec" stroke-width="1.1" fill="none"/>
<rect x="500.19" y="260.2" width="11" height="11" fill="#737373"/><path d="M500.19 265.7H511.19M505.69 260.2V271.2" stroke="#ececec" stroke-width="1.1" fill="none"/>
<polygon points="323.51,272.7 325.91,277.9 321.11,277.9" fill="#333"/>
<polygon points="349.54,270.74 351.94,275.94 347.14,275.94" fill="#333"/>
<polygon points="375.56,265.35 377.96,270.55 373.16,270.55" fill="#333"/>
<polygon points="401.59,262.9 403.99,268.1 399.19,268.1" fill="#333"/>
<polygon points="427.61,253.58 430.01,258.78 425.21,258.78" fill="#333"/>
<polygon points="453.64,255.3 456.04,260.5 451.24,260.5" fill="#333"/>
<polygon points="479.66,254.07 482.06,259.27 477.26,259.27" fill="#333"/>
<polygon points="505.69,256.28 508.09,261.48 503.29,261.48" fill="#333"/>
<rect x="323.11" y="274.4" width="5.2" height="2.2" fill="#000"/>
<rect x="349.14" y="206.51" width="5.2" height="2.2" fill="#000"/>
<rect x="375.16" y="141.8" width="5.2" height="2.2" fill="#000"/>
<rect x="401.19" y="110.67" width="5.2" height="2.2" fill="#000"/>
<rect x="427.21" y="61.9" width="5.2" height="2.2" fill="#000"/>
<rect x="453.24" y="46.46" width="5.2" height="2.2" fill="#000"/>
<rect x="479.26" y="49.4" width="5.2" height="2.2" fill="#000"/>
<rect x="505.29" y="46.46" width="5.2" height="2.2" fill="#000"/>
<circle cx="323.51" cy="275.5" r="2.2" fill="#888" stroke="#000" stroke-width="1"/>
<circle cx="349.54" cy="274.27" r="2.2" fill="#888" stroke="#000" stroke-width="1"/>
<circle cx="375.56" cy="274.27" r="2.2" fill="#888" stroke="#000" stroke-width="1"/>
<circle cx="401.59" cy="274.52" r="2.2" fill="#888" stroke="#000" stroke-width="1"/>
<circle cx="427.61" cy="274.76" r="2.2" fill="#888" stroke="#000" stroke-width="1"/>
<circle cx="453.64" cy="274.76" r="2.2" fill="#888" stroke="#000" stroke-width="1"/>
<circle cx="479.66" cy="274.76" r="2.2" fill="#888" stroke="#000" stroke-width="1"/>
<circle cx="505.69" cy="274.76" r="2.2" fill="#888" stroke="#000" stroke-width="1"/>
<rect x="317.41" y="269.4" width="12.2" height="12.2" fill="#c6c6c6"/><path d="M317.41 275.5H329.61M323.51 269.4V281.6" stroke="#222" stroke-width="1.5" fill="none"/>
<rect x="343.44" y="145.87" width="12.2" height="12.2" fill="#c6c6c6"/><path d="M343.44 151.97H355.64M349.54 145.87V158.07" stroke="#222" stroke-width="1.5" fill="none"/>
<rect x="369.46" y="110.82" width="12.2" height="12.2" fill="#c6c6c6"/><path d="M369.46 116.92H381.66M375.56 110.82V123.02" stroke="#222" stroke-width="1.5" fill="none"/>
<rect x="395.49" y="78.96" width="12.2" height="12.2" fill="#c6c6c6"/><path d="M395.49 85.06H407.69M401.59 78.96V91.16" stroke="#222" stroke-width="1.5" fill="none"/>
<rect x="421.51" y="56.9" width="12.2" height="12.2" fill="#c6c6c6"/><path d="M421.51 63H433.71M427.61 56.9V69.1" stroke="#222" stroke-width="1.5" fill="none"/>
<rect x="447.54" y="51.02" width="12.2" height="12.2" fill="#c6c6c6"/><path d="M447.54 57.12H459.74M453.64 51.02V63.22" stroke="#222" stroke-width="1.5" fill="none"/>
<rect x="473.56" y="44.4" width="12.2" height="12.2" fill="#c6c6c6"/><path d="M473.56 50.5H485.76M479.66 44.4V56.6" stroke="#222" stroke-width="1.5" fill="none"/>
<rect x="499.59" y="41.46" width="12.2" height="12.2" fill="#c6c6c6"/><path d="M499.59 47.56H511.79M505.69 41.46V53.66" stroke="#222" stroke-width="1.5" fill="none"/>
<rect x="397.39" y="192.84" width="8.4" height="1.6" fill="#000"/>
<rect x="371.36" y="217.59" width="8.4" height="1.6" fill="#000"/><path d="M294 340.8H320.2" stroke="#222" stroke-width="1.3"/>
<polygon points="306.8,336.2 311.4,340.8 306.8,345.4 302.2,340.8" fill="#000"/>
<text x="324" y="344.8" font-size="12.4" class="r" textLength="62.33" lengthAdjust="spacingAndGlyphs">Granta-519</text>
<path d="M294 352.58H320.2" stroke="#222" stroke-width="1.3"/>
<circle cx="306.8" cy="352.58" r="4.3" fill="#000"/>
<text x="324" y="356.58" font-size="12.4" class="r" textLength="37.32" lengthAdjust="spacingAndGlyphs">DG-75</text>
<path d="M294 364.36H320.2" stroke="#222" stroke-width="1.3"/>
<rect x="303" y="360.56" width="7.6" height="7.6" fill="#fff" stroke="#000" stroke-width="1.2"/>
<text x="324" y="368.36" font-size="12.4" class="r" textLength="32.59" lengthAdjust="spacingAndGlyphs">Loucy</text>
<path d="M294 376.14H320.2" stroke="#222" stroke-width="1.3"/>
<rect x="301.1" y="370.44" width="11.4" height="11.4" fill="#fff"/><path d="M302.3 376.14H311.3M306.8 371.64V380.64" stroke="#000" stroke-width="1.1" fill="none"/>
<text x="324" y="380.14" font-size="12.4" class="r" textLength="79.96" lengthAdjust="spacingAndGlyphs">Karpas-1106P</text>
<path d="M294 387.92H320.2" stroke="#222" stroke-width="1.3"/>
<circle cx="306.8" cy="387.92" r="3.8" fill="#c4c4c4" stroke="#333" stroke-width="1.2"/>
<text x="324" y="391.92" font-size="12.4" class="r" textLength="17.15" lengthAdjust="spacingAndGlyphs">YT</text>
<path d="M294 399.7H320.2" stroke="#222" stroke-width="1.3"/>
<path d="M303 395.9L310.6 403.5M303 403.5L310.6 395.9" stroke="#000" stroke-width="1.1" fill="none"/>
<text x="324" y="403.7" font-size="12.4" class="r" textLength="20.66" lengthAdjust="spacingAndGlyphs">Raji</text>
<path d="M294 411.48H320.2" stroke="#222" stroke-width="1.3"/>
<rect x="301.5" y="406.18" width="10.6" height="10.6" fill="#6e6e6e"/><path d="M301.5 406.18L312.1 416.78M301.5 416.78L312.1 406.18" stroke="#000" stroke-width="1.3" fill="none"/>
<text x="324" y="415.48" font-size="12.4" class="r" textLength="47.94" lengthAdjust="spacingAndGlyphs">DOHH-2</text>
<path d="M294 423.26H320.2" stroke="#222" stroke-width="1.3"/>
<polygon points="306.8,420.46 309.2,425.66 304.4,425.66" fill="#333"/>
<text x="324" y="427.26" font-size="12.4" class="r" textLength="56.19" lengthAdjust="spacingAndGlyphs">SU-DHL-1</text>
<path d="M294 435.04H320.2" stroke="#222" stroke-width="1.3"/>
<circle cx="306.8" cy="435.04" r="2.2" fill="#888" stroke="#000" stroke-width="1"/>
<text x="324" y="439.04" font-size="12.4" class="r" textLength="32.5" lengthAdjust="spacingAndGlyphs">Daudi</text>
<path d="M421.4 340.8H447.6" stroke="#222" stroke-width="1.3"/>
<rect x="430.3" y="336.6" width="8.4" height="8.4" fill="#000"/>
<text x="451.6" y="344.8" font-size="12.4" class="r" textLength="43.41" lengthAdjust="spacingAndGlyphs">JEKO-1</text>
<path d="M421.4 352.58H447.6" stroke="#222" stroke-width="1.3"/>
<circle cx="434.5" cy="352.58" r="4.3" fill="#fff" stroke="#000" stroke-width="1.2"/>
<text x="451.6" y="356.58" font-size="12.4" class="r" textLength="65.41" lengthAdjust="spacingAndGlyphs">Karpas-422</text>
<path d="M421.4 364.36H447.6" stroke="#222" stroke-width="1.3"/>
<rect x="430.6" y="360.46" width="7.8" height="7.8" fill="#959595" stroke="#000" stroke-width="1"/>
<text x="451.6" y="368.36" font-size="12.4" class="r" textLength="57.69" lengthAdjust="spacingAndGlyphs">SU-DHL-4</text>
<path d="M421.4 376.14H447.6" stroke="#222" stroke-width="1.3"/>
<path d="M429.9 372.46L439.1 379.82M429.9 379.82L439.1 372.46M434.5 371.54V380.74" stroke="#000" stroke-width="1" fill="none"/><circle cx="434.5" cy="376.14" r="1" fill="#000"/>
<text x="451.6" y="380.14" font-size="12.4" class="r" textLength="46.45" lengthAdjust="spacingAndGlyphs">SUP-M2</text>
<path d="M421.4 387.92H447.6" stroke="#222" stroke-width="1.3"/>
<polygon points="434.5,384.02 439,392.32 430,392.32" fill="#fff" stroke="#000" stroke-width="1.2"/>
<text x="451.6" y="391.92" font-size="12.4" class="r" textLength="37.38" lengthAdjust="spacingAndGlyphs">MEC-1</text>
<path d="M421.4 399.7H447.6" stroke="#222" stroke-width="1.3"/>
<rect x="430.1" y="395.3" width="8.8" height="8.8" fill="#d4d4d4"/><path d="M430.6 395.8L438.4 403.6M430.6 403.6L438.4 395.8" stroke="#000" stroke-width="1.3" fill="none"/><path d="M434.5 395.8V403.6" stroke="#000" stroke-width="1" fill="none"/>
<text x="451.6" y="403.7" font-size="12.4" class="r" textLength="57.76" lengthAdjust="spacingAndGlyphs">WSU-NHL</text>
<path d="M421.4 411.48H447.6" stroke="#222" stroke-width="1.3"/>
<rect x="429" y="405.98" width="11" height="11" fill="#737373"/><path d="M429 411.48H440M434.5 405.98V416.98" stroke="#ececec" stroke-width="1.1" fill="none"/>
<text x="451.6" y="415.48" font-size="12.4" class="r" textLength="53.58" lengthAdjust="spacingAndGlyphs">Bonna-12</text>
<path d="M421.4 423.26H447.6" stroke="#222" stroke-width="1.3"/>
<rect x="434.1" y="422.16" width="5.2" height="2.2" fill="#000"/>
<text x="451.6" y="427.26" font-size="12.4" class="r" textLength="41.35" lengthAdjust="spacingAndGlyphs">SKW-3</text>
<path d="M421.4 435.04H447.6" stroke="#222" stroke-width="1.3"/>
<rect x="428.4" y="428.94" width="12.2" height="12.2" fill="#c6c6c6"/><path d="M428.4 435.04H440.6M434.5 428.94V441.14" stroke="#222" stroke-width="1.5" fill="none"/>
<text x="451.6" y="439.04" font-size="12.4" class="r" textLength="33.47" lengthAdjust="spacingAndGlyphs">Jurkat</text></svg>
</body></html>
